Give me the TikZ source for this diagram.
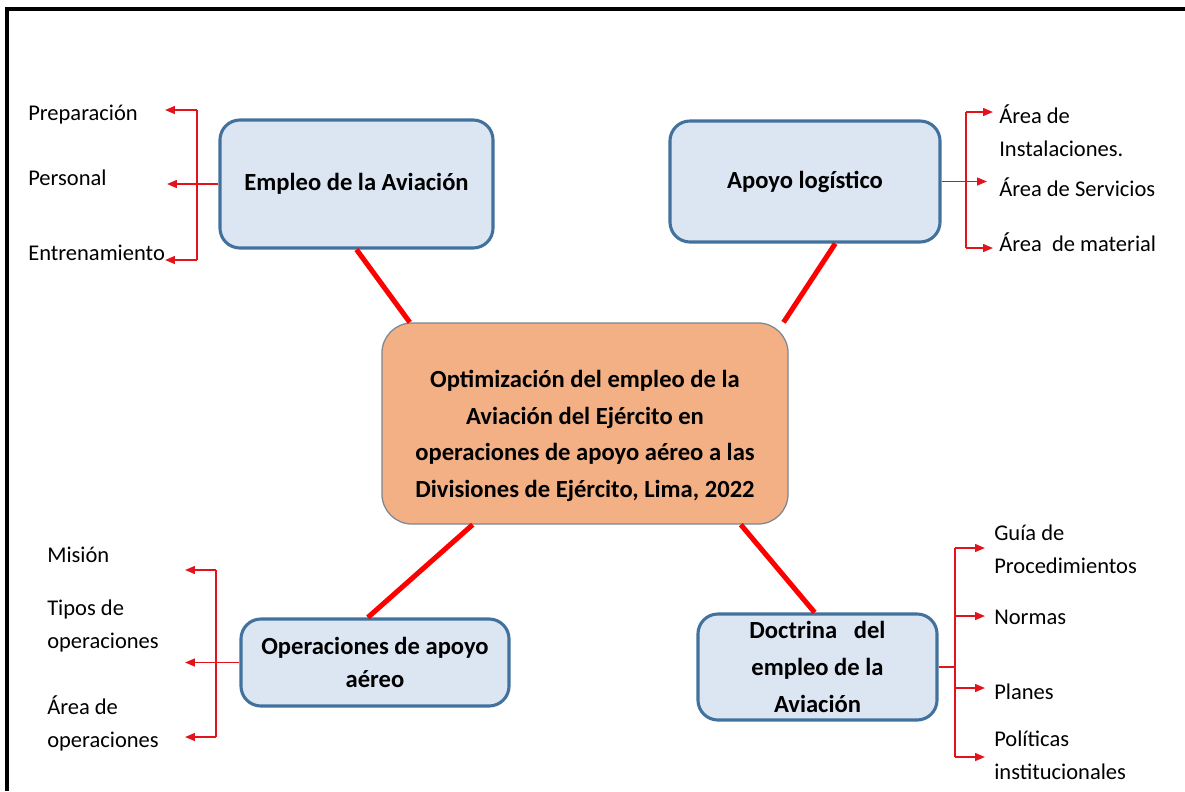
\documentclass[tikz,border=0pt]{standalone}
\usepackage{fontspec}
\setmainfont{Carlito}
\usetikzlibrary{arrows.meta,calc}

\definecolor{cajafondo}{HTML}{DCE6F2}
\definecolor{cajaborde}{HTML}{41719C}
\definecolor{centrofondo}{HTML}{F2B084}
\definecolor{centroborde}{HTML}{7C8894}
\definecolor{ramarojo}{HTML}{E3131B}

\begin{document}
\begin{tikzpicture}[x=0.025cm, y=-0.025cm,
    caja/.style = {draw=cajaborde, line width=2.2pt, fill=cajafondo, rounded corners=0.5cm,
                   align=center, inner sep=0pt, font=\bfseries\fontsize{17.5}{26}\selectfont},
    centro/.style = {draw=centroborde, line width=0.9pt, fill=centrofondo, rounded corners=0.75cm,
                     align=center, inner sep=0pt, font=\bfseries\fontsize{17.5}{26}\selectfont},
    etiq/.style = {anchor=west, align=left, inner sep=0pt, font=\fontsize{16}{23.4}\selectfont},
    enlace/.style = {red, line width=3.6pt},
    rama/.style = {ramarojo, line width=1.3pt},
    flecha/.style = {rama, -{Triangle[length=7pt, width=5.5pt]}}]

    \useasboundingbox (0,0) rectangle (1185,791);

    % Frame
    \coordinate (marcoA) at (1185,9);
    \coordinate (marcoB) at (7,9);
    \coordinate (marcoC) at (7,791);
    \draw[line width=2.2pt] (marcoA) -- (marcoB) -- (marcoC);

    % Boxes
    \node[centro, minimum width=10.15cm, minimum height=5.025cm] (cen) at (585,423.5)
        {\rule{0pt}{30pt}Optimización del empleo de la\\Aviación del Ejército en\\operaciones de apoyo aéreo a las\\Divisiones de Ejército, Lima, 2022};
    \node[caja, minimum width=6.825cm, minimum height=3.2cm] (emp) at (356.5,184) {Empleo de la Aviación};
    \node[caja, minimum width=6.75cm, minimum height=3.025cm] (apo) at (805,181.5) {Apoyo logístico};
    \node[caja, minimum width=6.7cm, minimum height=2.175cm, font=\bfseries\fontsize{17.5}{23.4}\selectfont]
        (ope) at (375,662.5) {Operaciones de apoyo\\aéreo};
    \node[caja, minimum width=5.975cm, minimum height=2.65cm] (doc) at (817.5,667)
        {Doctrina\ \ \ del\\empleo de la\\Aviación};

    % Links to the centre
    \draw[enlace] (emp.south) -- (cen.150);
    \draw[enlace] (apo.-64) -- (cen.27);
    \draw[enlace] (cen.222) -- (ope.99);
    \draw[enlace] (cen.-33) -- (doc.93);

    % Labels
    \node[etiq] (prep) at (28,115) {Preparación};
    \node[etiq] (pers) at (28,178) {Personal};
    \node[etiq] (entr) at (28,253) {Entrenamiento};

    \node[etiq] (inst) at (999,131) {Área de\\Instalaciones.};
    \node[etiq] (serv) at (999,187) {Área de Servicios};
    \node[etiq] (mate) at (999,242) {Área\ \ de material};

    \node[etiq] (mis) at (47,555) {Misión};
    \node[etiq] (tipo) at (47,626) {Tipos de\\operaciones};
    \node[etiq] (area) at (47,723) {Área de\\operaciones};

    \node[etiq] (guia) at (994,549) {Guía de\\Procedimientos};
    \node[etiq] (norm) at (994,617) {Normas};
    \node[etiq] (plan) at (994,692) {Planes};
    \node[etiq] (poli) at (994,755) {Políticas\\institucionales};

    % Branches: Empleo de la Aviacion
    \coordinate (e1) at (197,110);
    \coordinate (e3) at (197,260);
    \coordinate (e1p) at (165,110);
    \coordinate (e2p) at (167,184);
    \coordinate (e3p) at (165,260);
    \draw[rama] (e1) -- (e3);
    \draw[flecha] (e1) -- (e1p);
    \draw[flecha] (emp.west) -- (e2p);
    \draw[flecha] (e3) -- (e3p);

    % Branches: Apoyo logistico
    \coordinate (a1) at (966,112);
    \coordinate (a3) at (966,248);
    \coordinate (a1p) at (993,112);
    \coordinate (a2p) at (987,181.5);
    \coordinate (a3p) at (993,248);
    \draw[rama] (a1) -- (a3);
    \draw[flecha] (a1) -- (a1p);
    \draw[flecha] (apo.east) -- (a2p);
    \draw[flecha] (a3) -- (a3p);

    % Branches: Operaciones de apoyo aereo
    \coordinate (o1) at (216,570);
    \coordinate (o3) at (216,737);
    \coordinate (o1p) at (185,570);
    \coordinate (o2p) at (185,662.5);
    \coordinate (o3p) at (185,737);
    \draw[rama] (o1) -- (o3);
    \draw[flecha] (o1) -- (o1p);
    \draw[flecha] (ope.west) -- (o2p);
    \draw[flecha] (o3) -- (o3p);

    % Branches: Doctrina
    \coordinate (d1) at (955,548);
    \coordinate (d2) at (955,616);
    \coordinate (d3) at (955,688);
    \coordinate (d4) at (955,757);
    \coordinate (d1p) at (985,548);
    \coordinate (d2p) at (985,616);
    \coordinate (d3p) at (985,688);
    \coordinate (d4p) at (985,757);
    \draw[rama] (d1) -- (d4);
    \draw[rama, line width=0.8pt] (doc.east) -- (doc.east -| d1);
    \draw[flecha] (d1) -- (d1p);
    \draw[flecha] (d2) -- (d2p);
    \draw[flecha] (d3) -- (d3p);
    \draw[flecha] (d4) -- (d4p);

\end{tikzpicture}
\end{document}
